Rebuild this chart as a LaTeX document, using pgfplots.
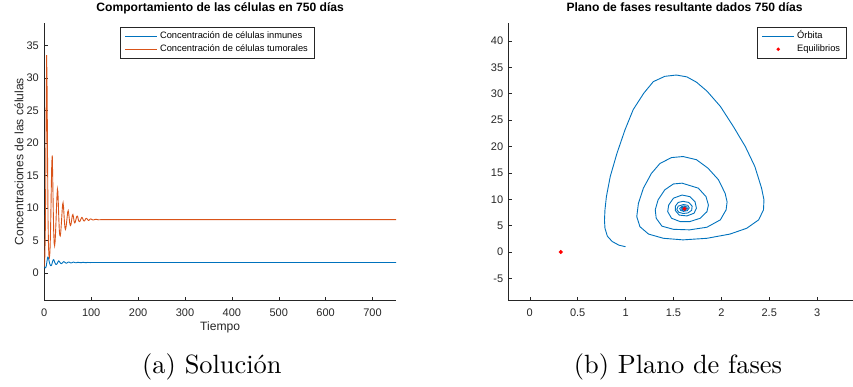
\documentclass[border=0pt]{standalone}
\usepackage{fontspec}
\newfontfamily\arial{Liberation Sans}
\usepackage{pgfplots}
\pgfplotsset{compat=1.18}
\definecolor{mblue}{rgb}{0,0.447,0.741}
\definecolor{morange}{rgb}{0.85,0.325,0.098}
\definecolor{axgray}{rgb}{0.15,0.15,0.15}
\pgfplotsset{mat/.style={
  scale only axis,
  axis x line*=bottom, axis y line*=left,
  axis line style={axgray, line width=0.5pt, -},
  tick align=inside, major tick length=3.5pt,
  every tick/.style={axgray, line width=0.5pt},
  tick label style={font=\arial\fontsize{11}{13}\selectfont, text=axgray},
  /pgf/number format/assume math mode=true,
  xticklabel style={anchor=base, yshift=-16pt},
  yticklabel style={anchor=east, xshift=-2pt},
  label style={font=\arial\fontsize{12.1}{14}\selectfont, text=axgray},
  title style={font=\arial\bfseries\fontsize{12.1}{14}\selectfont, text=black, at={(axis description cs:0.5,1.0187)}, anchor=base},
  xlabel style={at={(axis description cs:0.5,-0.109)}, anchor=base},
  ylabel style={at={(axis description cs:-0.0597,0.5)}, anchor=base},
  legend style={draw=axgray, line width=0.5pt, fill=white,
    font=\arial\fontsize{9.3}{11}\selectfont,
    inner xsep=4.5pt, inner ysep=2.5pt, row sep=0pt, column sep=1pt,
    nodes={inner sep=1.5pt, text height=7.5pt, text depth=2.5pt},
    cells={anchor=west}},
  legend image code/.code={\draw[#1, line width=0.9pt] (0pt,0pt) -- (32pt,0pt);},
}}
\begin{document}
\begin{tikzpicture}
\useasboundingbox (0,0) rectangle (853pt,387pt);
% ---------------- left: time series
\begin{axis}[mat,
  at={(44.3pt,86.3pt)}, anchor=south west,
  width=351.7pt, height=278pt,
  xmin=0, xmax=750, ymin=-4.26, ymax=38.5,
  xtick={0,100,...,700}, ytick={0,5,...,35},
  title={Comportamiento de las células en 750 días},
  xlabel={Tiempo}, ylabel={Concentraciones de las células},
  legend style={at={(axis description cs:0.215,0.9845)}, anchor=north west},
]
\addplot[mblue, line width=0.9pt] coordinates {
(0,1.0) (1,0.86) (2,0.79) (3,0.82) (4,1.0) (5,1.45) (6,1.95) (7,2.35) (7.7,2.45)
(8.5,2.4) (9.5,2.1) (10.5,1.75) (11.5,1.45) (12.5,1.25) (13.5,1.14) (14.5,1.12)
(15.5,1.2) (16.5,1.45) (17.5,1.75) (18.5,1.95) (19.5,2.06) (20.5,2.0) (21.5,1.8)
(22.5,1.6) (23.5,1.45) (24.5,1.34) (25.5,1.31) (26.5,1.35) (27.5,1.48) (28.5,1.62)
(29.5,1.76) (30.5,1.86) (31.5,1.83) (32.5,1.73) (33.5,1.62) (34.5,1.52) (35.5,1.46)
(36.5,1.44) (37.5,1.47) (38.5,1.55) (39.5,1.64) (40.5,1.71) (41.5,1.74) (42.5,1.72)
(43.5,1.67) (44.5,1.61) (45.5,1.55) (46.5,1.52) (47.5,1.52) (48.5,1.55) (49.5,1.6)
(50.5,1.65) (51.5,1.69) (52.5,1.69) (53.5,1.66) (54.5,1.62) (55.5,1.58) (56.5,1.555)
(57.5,1.555) (58.5,1.57) (59.5,1.6) (60.5,1.635) (61.5,1.66) (62.5,1.665) (63.5,1.65)
(64.5,1.62) (65.5,1.6) (66.5,1.575) (67.5,1.57) (68.5,1.58) (69.5,1.6) (70.5,1.625)
(71.5,1.64) (72.5,1.645) (73.5,1.635) (75,1.61) (77,1.585) (79,1.59) (81,1.62)
(83,1.635) (85,1.62) (87,1.6) (89,1.595) (91,1.61) (93,1.625) (95,1.615) (98,1.605)
(102,1.615) (106,1.612) (750,1.612)
};
\addlegendentry{Concentración de células inmunes}
\addplot[morange, line width=0.9pt] coordinates {
(0,1.0) (1,2.2) (2,5.5) (3,13) (4,25) (5,33.5) (6,28) (7,17) (8,8) (9,4) (10,2.6)
(11,2.4) (12,3.2) (13,5.5) (14,9) (15,13.5) (16,17) (17,18.1) (18,14.5) (19,10)
(20,6.5) (21,4.6) (22,4.2) (23,4.8) (24,6.2) (25,8) (26,10) (27,11.8) (28,12.9)
(29,12.5) (30,10.5) (31,8.3) (32,6.6) (33,5.8) (34,5.7) (35,6.2) (36,7.2) (37,8.3)
(38,9.5) (39,10.5) (40,10.8) (41,10.2) (42,9) (43,7.8) (44,7) (45,6.7) (46,6.9)
(47,7.4) (48,8.1) (49,8.8) (50,9.4) (51,9.6) (52,9.2) (53,8.5) (54,7.8) (55,7.4)
(56,7.3) (57,7.5) (58,8.0) (59,8.5) (60,8.9) (61,9.0) (62,8.7) (63,8.2) (64,7.8)
(65,7.7) (66,7.8) (67,8.1) (68,8.4) (69,8.65) (70,8.75) (71,8.7) (72,8.4) (73,8.1)
(74,7.95) (75,7.9) (76,7.95) (77,8.1) (78,8.3) (79,8.45) (80,8.55) (81,8.5)
(82,8.35) (83,8.15) (84,8.05) (85,8.0) (86,8.05) (87,8.15) (88,8.3) (89,8.38)
(90,8.4) (91,8.35) (92,8.25) (93,8.15) (94,8.1) (95,8.1) (96,8.15) (97,8.22)
(98,8.3) (99,8.32) (100,8.3) (102,8.2) (104,8.15) (106,8.18) (108,8.24) (110,8.26)
(113,8.22) (116,8.18) (120,8.2) (750,8.2)
};
\addlegendentry{Concentración de células tumorales}
\end{axis}
% ---------------- right: phase plane
\begin{axis}[mat,
  at={(508.7pt,86.3pt)}, anchor=south west,
  width=351.7pt, height=278pt,
  xmin=-0.22, xmax=3.452, ymin=-9.23, ymax=43.47,
  xtick={0,0.5,...,3}, ytick={-5,0,...,40},
  title={Plano de fases resultante dados 750 días},
  legend style={at={(axis description cs:0.96,0.9845)}, anchor=north east},
]
\addplot[mblue, line width=0.9pt] coordinates {
(1.00,1.0) (0.93,1.3) (0.86,2.0) (0.81,3.0) (0.785,4.5) (0.78,6.0) (0.785,8.0)
(0.80,10.5) (0.84,14.3) (0.91,18.7) (0.995,23.2) (1.08,27.0) (1.19,30.1) (1.29,32.3)
(1.41,33.3) (1.53,33.55) (1.64,33.2) (1.74,32.2) (1.85,30.5) (1.99,27.6) (2.125,23.8)
(2.25,20.0) (2.35,16.2) (2.42,12.1) (2.445,9.9) (2.44,8.0) (2.39,6.1) (2.265,4.5)
(2.09,3.4) (1.85,2.6) (1.60,2.3) (1.395,2.6) (1.24,3.4) (1.15,4.8) (1.117,6.7)
(1.134,9.2) (1.186,12.1) (1.27,14.9) (1.36,16.8) (1.48,17.9) (1.60,18.1) (1.74,17.5)
(1.86,15.9) (1.97,13.7) (2.04,11.1) (2.06,9.5) (2.05,8.0) (1.99,6.1) (1.85,4.7)
(1.67,4.2) (1.50,4.3) (1.38,4.9) (1.32,6.4) (1.31,8.0) (1.34,9.9) (1.41,11.8)
(1.50,12.9) (1.59,13.05) (1.76,12.1) (1.84,10.5) (1.865,8.9) (1.85,7.65) (1.78,6.4)
(1.67,5.76) (1.57,5.76) (1.48,6.4) (1.44,7.65) (1.45,8.9) (1.50,10.2) (1.59,10.8)
(1.67,10.5) (1.725,9.55) (1.74,8.3) (1.715,7.35) (1.64,6.84) (1.56,7.0) (1.52,7.85)
(1.52,8.7) (1.55,9.4) (1.60,9.6) (1.66,9.4) (1.695,8.7) (1.69,7.9) (1.65,7.4)
(1.60,7.3) (1.555,7.55) (1.535,8.1) (1.55,8.7) (1.605,9.0) (1.65,8.85) (1.665,8.35)
(1.645,7.85) (1.605,7.7) (1.575,7.9) (1.565,8.25) (1.585,8.6) (1.61,8.7) (1.64,8.55)
(1.645,8.25) (1.625,8.0) (1.60,7.95) (1.585,8.15) (1.59,8.4) (1.615,8.45) (1.63,8.3)
(1.62,8.15) (1.605,8.2) (1.612,8.25)
};
\addlegendentry{Órbita}
\addplot[only marks, mark=*, mark size=1.8pt, red, mark options={draw=none, fill=red},
  legend image code/.code={\path[draw=none] (0pt,0pt) -- (32pt,0pt); \fill[red, draw=none] (16pt,0pt) circle (1.8pt);}]
  coordinates {(0.323,0) (1.616,8.2)};
\addlegendentry{Equilibrios}
\end{axis}
% ---------------- captions
\node[anchor=base west, inner sep=0pt, scale=2.64] at (141.7pt,13.7pt) {\fontsize{10}{12}\selectfont (a) Solución};
\node[anchor=base west, inner sep=0pt, scale=2.64] at (573.3pt,13.7pt) {\fontsize{10}{12}\selectfont (b) Plano de fases};
\end{tikzpicture}
\end{document}
